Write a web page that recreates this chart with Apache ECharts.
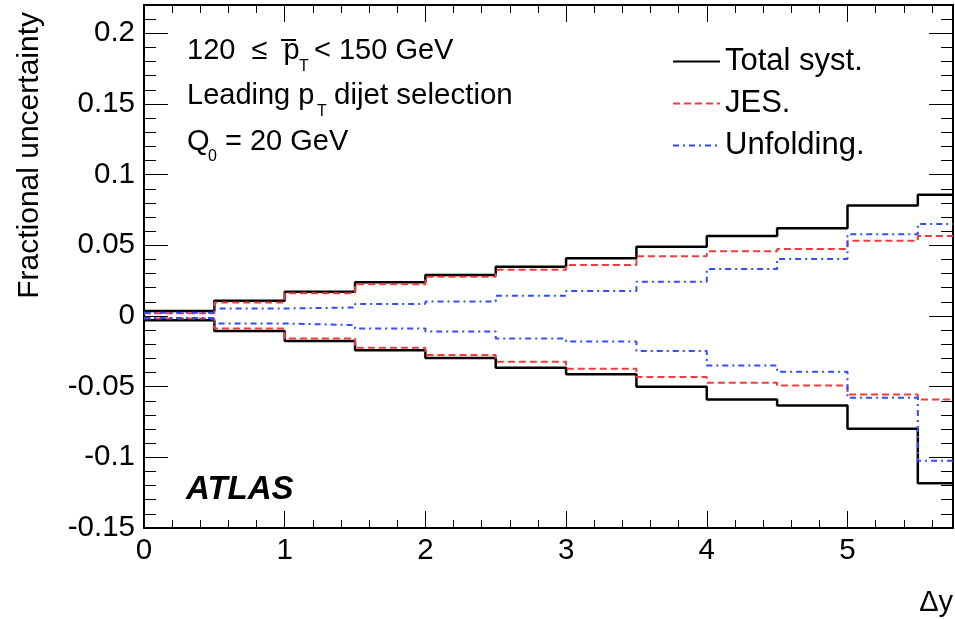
<!DOCTYPE html>
<html>
<head>
<meta charset="utf-8">
<script src="https://cdn.jsdelivr.net/npm/echarts@6/dist/echarts.min.js"></script>
<style>
  html, body { margin: 0; padding: 0; background: #fff; }
  #chart { width: 955px; height: 619px; }
</style>
</head>
<body>
<div id="chart"></div>
<script>
// bin edges in delta-y (last bin is cut by the frame)
const binEdges = [0, 0.5, 1, 1.5, 2, 2.5, 3, 3.5, 4, 4.5, 5, 5.5, 5.75]

// per-bin fractional uncertainties
const totalUp   = [0.0035, 0.0107, 0.0171, 0.0238, 0.0290, 0.0349, 0.0408, 0.0490, 0.0565, 0.0621, 0.0782, 0.0858]
const totalDown = [-0.0030, -0.0106, -0.0177, -0.0243, -0.0297, -0.0366, -0.0413, -0.0500, -0.0591, -0.0634, -0.0797, -0.1183]
const jesUp     = [0.0020, 0.0096, 0.0160, 0.0224, 0.0278, 0.0327, 0.0360, 0.0423, 0.0458, 0.0474, 0.0533, 0.0565]
const jesDown   = [-0.0018, -0.0089, -0.0160, -0.0224, -0.0276, -0.0323, -0.0373, -0.0432, -0.0472, -0.0491, -0.0555, -0.0591]
const unfUp     = [0.0022, 0.0053, 0.0060, 0.0084, 0.0103, 0.0143, 0.0176, 0.0242, 0.0332, 0.0403, 0.0579, 0.0650]
const unfDown   = [-0.0015, -0.0053, -0.0065, -0.0089, -0.0110, -0.0160, -0.0181, -0.0248, -0.0350, -0.0394, -0.0579, -0.1024]

// axis ticks
const xMajorTicks = [0, 1, 2, 3, 4, 5]
const yMajorTicks = [-0.15, -0.1, -0.05, 0, 0.05, 0.1, 0.15, 0.2]
const X_MIN = 0, X_MAX = 5.75
const Y_MIN = -0.15, Y_MAX = 0.22

const FONT = '"Liberation Sans", Arial, Helvetica, sans-serif'

function minorTicks(lo, hi, step) {
  const out = []
  for (let k = Math.ceil(lo / step - 1e-9); k * step <= hi + 1e-9; k++) {
    out.push(Math.round(k * step * 1000) / 1000)
  }
  return out
}
const xMinorTicks = minorTicks(X_MIN, X_MAX, 0.2)
const yMinorTicks = minorTicks(Y_MIN, Y_MAX, 0.01)

// histogram -> step line points
function stepData(values) {
  const pts = values.map((v, i) => [binEdges[i], v])
  pts.push([binEdges[binEdges.length - 1], values[values.length - 1]])
  return pts
}

const frameLine = { show: true, onZero: false, lineStyle: { color: '#000', width: 2 } }
const noLine = { show: false, onZero: false }

function xAxis(position, ticks, len, withLine, withLabel) {
  return {
    type: 'value', position, min: X_MIN, max: X_MAX,
    axisLine: withLine ? frameLine : noLine,
    axisTick: { show: true, inside: true, length: len, customValues: ticks, lineStyle: { color: '#000', width: 1 } },
    axisLabel: withLabel
      ? { show: true, customValues: xMajorTicks, color: '#000', fontSize: 29.5, fontFamily: FONT, margin: 8 }
      : { show: false },
    splitLine: { show: false }
  }
}

function yAxis(position, ticks, len, withLine, withLabel) {
  return {
    type: 'value', position, min: Y_MIN, max: Y_MAX,
    axisLine: withLine ? frameLine : noLine,
    axisTick: { show: true, inside: true, length: len, customValues: ticks, lineStyle: { color: '#000', width: 1 } },
    axisLabel: withLabel
      ? { show: true, customValues: yMajorTicks, color: '#000', fontSize: 29.5, fontFamily: FONT, margin: 9 }
      : { show: false },
    splitLine: { show: false }
  }
}

const totalStyle = { color: '#000', width: 2.5, type: 'solid' }
const jesStyle = { color: '#f23c3c', width: 2, type: [7, 4] }
const unfStyle = { color: '#2f4dff', width: 2, type: [6, 4, 2, 4] }

function histSeries(name, values, style) {
  return {
    name, type: 'line', step: 'end', symbol: 'none',
    xAxisIndex: 0, yAxisIndex: 0,
    data: stepData(values),
    lineStyle: style, itemStyle: { color: style.color },
    silent: true, animation: false
  }
}

const chart = echarts.init(document.getElementById('chart'))

chart.setOption({
  backgroundColor: '#fff',
  animation: false,
  grid: { left: 144, right: 2, top: 5, bottom: 91 },
  xAxis: [
    xAxis('bottom', xMajorTicks, 17, true, true),
    xAxis('bottom', xMinorTicks, 8, false, false),
    xAxis('top', xMajorTicks, 17, true, false),
    xAxis('top', xMinorTicks, 8, false, false)
  ],
  yAxis: [
    yAxis('left', yMajorTicks, 24, true, true),
    yAxis('left', yMinorTicks, 12, false, false),
    yAxis('right', yMajorTicks, 24, true, false),
    yAxis('right', yMinorTicks, 12, false, false)
  ],
  legend: {
    orient: 'vertical',
    left: 667, top: 41,
    itemWidth: 47, itemHeight: 14, itemGap: 11,
    selectedMode: false,
    itemStyle: { opacity: 0 },
    data: ['Total syst.', 'JES.', 'Unfolding.'],
    textStyle: { color: '#000', fontSize: 31, fontFamily: FONT, lineHeight: 30, padding: [0, 0, 0, 0] }
  },
  series: [
    histSeries('Total syst.', totalUp, totalStyle),
    histSeries('Total syst.', totalDown, totalStyle),
    histSeries('JES.', jesUp, jesStyle),
    histSeries('JES.', jesDown, jesStyle),
    histSeries('Unfolding.', unfUp, unfStyle),
    histSeries('Unfolding.', unfDown, unfStyle)
  ],
  graphic: [
    // y-axis title
    { type: 'text', x: 30, y: 12, rotation: Math.PI / 2,
      style: { text: 'Fractional uncertainty', fill: '#000', font: '30px ' + FONT, align: 'right', verticalAlign: 'middle' } },
    // x-axis title
    { type: 'text', x: 953, y: 603,
      style: { text: 'Δy', fill: '#000', font: '29px ' + FONT, align: 'right', verticalAlign: 'middle' } },
    // annotation lines
    { type: 'text', x: 187, y: 51,
      style: { text: '120  ≤  p', fill: '#000', font: '29px ' + FONT, align: 'left', verticalAlign: 'middle' } },
    { type: 'line', shape: { x1: 281, y1: 40, x2: 296, y2: 40 }, style: { stroke: '#000', lineWidth: 2 } },
    { type: 'text', x: 299, y: 67,
      style: { text: 'T', fill: '#000', font: '16px ' + FONT, align: 'left', verticalAlign: 'middle' } },
    { type: 'text', x: 314, y: 51,
      style: { text: '< 150 GeV', fill: '#000', font: '29px ' + FONT, align: 'left', verticalAlign: 'middle' } },
    { type: 'text', x: 187, y: 96,
      style: { text: 'Leading p', fill: '#000', font: '29px ' + FONT, align: 'left', verticalAlign: 'middle' } },
    { type: 'text', x: 317, y: 112,
      style: { text: 'T', fill: '#000', font: '16px ' + FONT, align: 'left', verticalAlign: 'middle' } },
    { type: 'text', x: 334, y: 96,
      style: { text: 'dijet selection', fill: '#000', font: '29.5px ' + FONT, align: 'left', verticalAlign: 'middle' } },
    { type: 'text', x: 187, y: 142,
      style: { text: 'Q', fill: '#000', font: '29px ' + FONT, align: 'left', verticalAlign: 'middle' } },
    { type: 'text', x: 208, y: 157,
      style: { text: '0', fill: '#000', font: '16px ' + FONT, align: 'left', verticalAlign: 'middle' } },
    { type: 'text', x: 225, y: 142,
      style: { text: '= 20 GeV', fill: '#000', font: '29px ' + FONT, align: 'left', verticalAlign: 'middle' } },
    // experiment label
    { type: 'text', x: 186, y: 490,
      style: { text: 'ATLAS', fill: '#000', font: 'italic bold 33px ' + FONT, align: 'left', verticalAlign: 'middle' } }
  ]
})
</script>
</body>
</html>
